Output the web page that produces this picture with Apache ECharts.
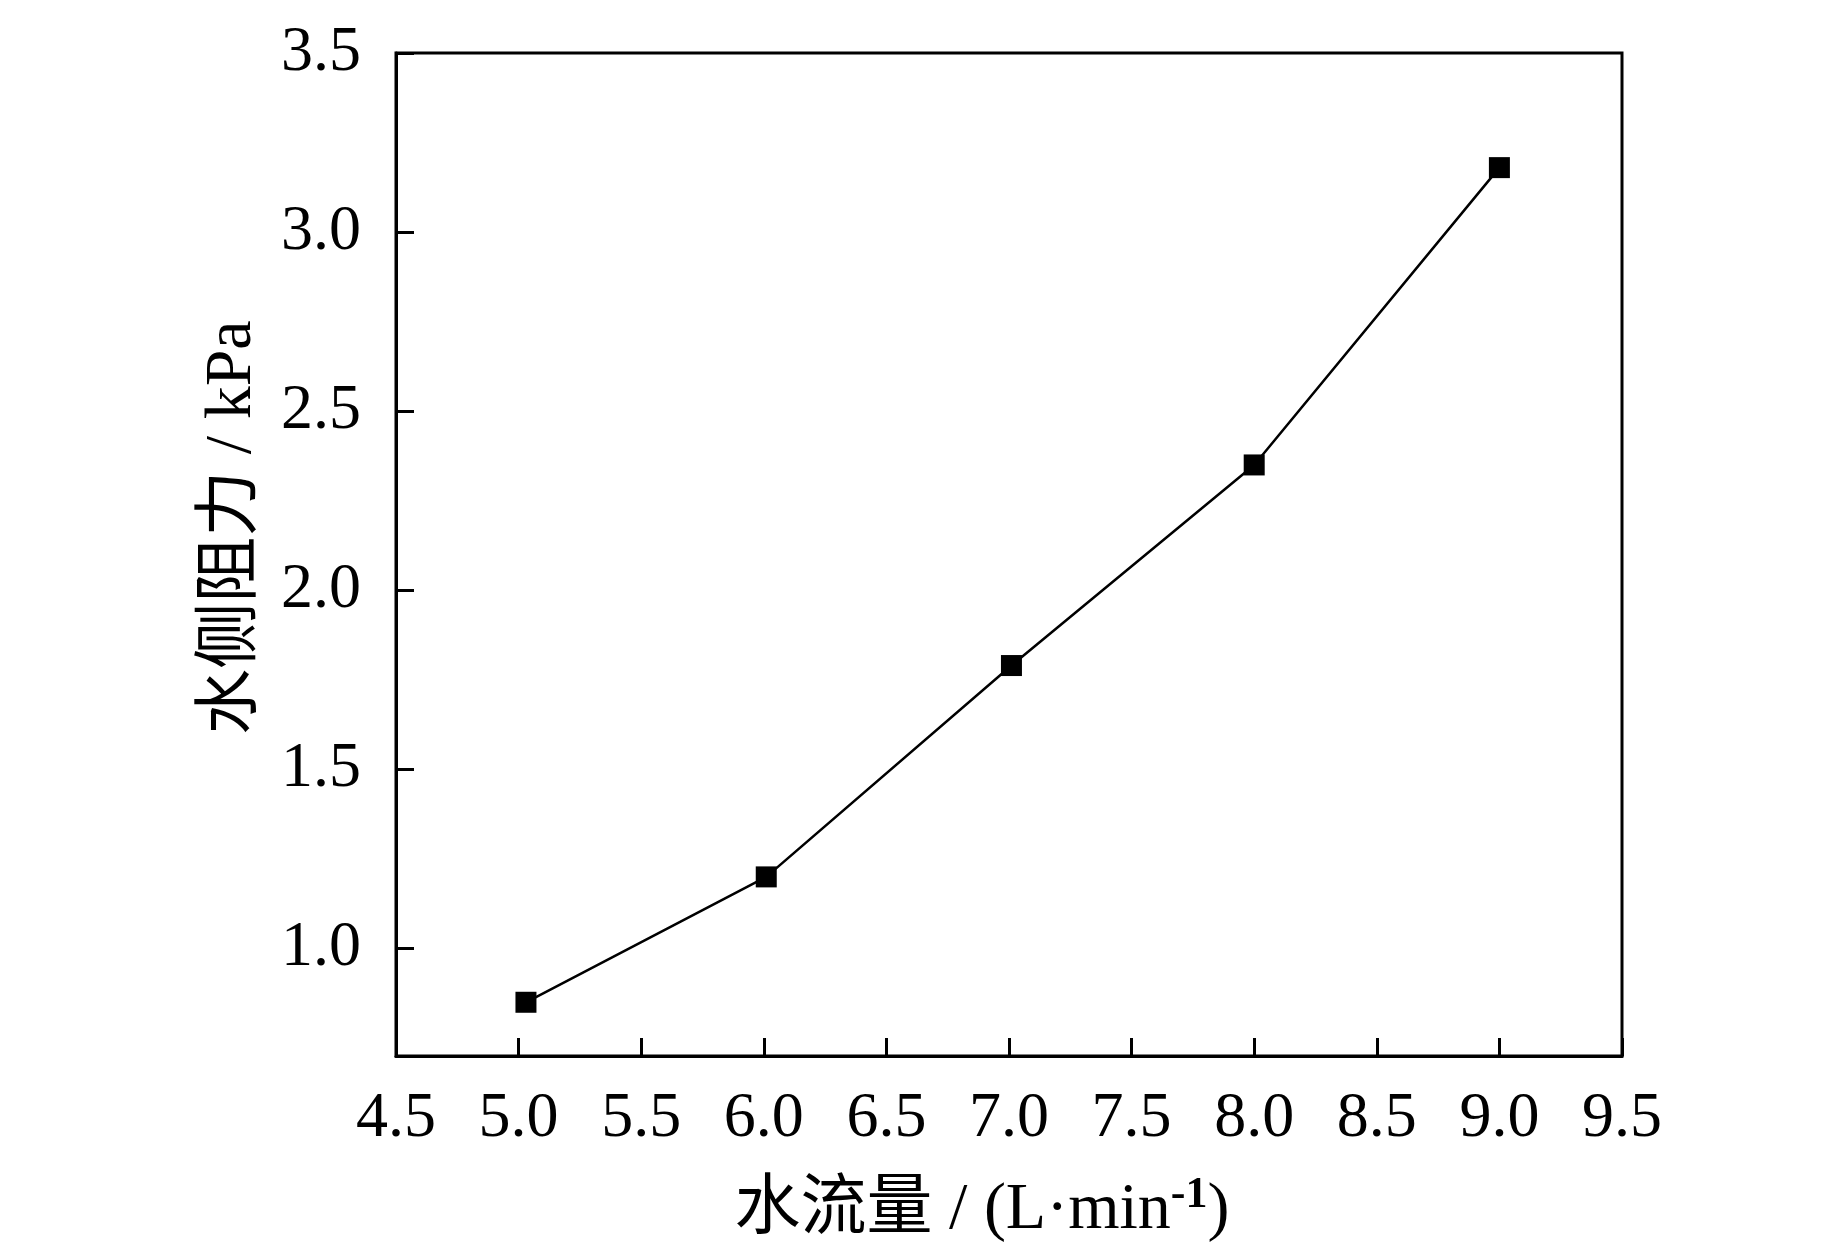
<!DOCTYPE html>
<html>
<head>
<meta charset="utf-8">
<style>
html,body{margin:0;padding:0;background:#fff;}
#chart{width:1843px;height:1252px;}
</style>
<script src="https://cdn.jsdelivr.net/npm/echarts@6/dist/echarts.min.js"></script>
</head>
<body>
<div id="chart"></div>
<script>
const flowRate = [5.03, 6.01, 7.01, 8.0, 9.0];
const resistance = [0.85, 1.20, 1.79, 2.35, 3.18];
const xTicks = [4.5, 5.0, 5.5, 6.0, 6.5, 7.0, 7.5, 8.0, 8.5, 9.0, 9.5];
const yTicks = [1.0, 1.5, 2.0, 2.5, 3.0, 3.5];
const xName = '水流量 / (L·min{sup|-1})';
const yName = '水侧阻力 / kPa';

const FONT = '"Liberation Serif", "Times New Roman", "Noto Sans CJK SC", serif';
const chart = echarts.init(document.getElementById('chart'));
chart.setOption({
  animation: false,
  backgroundColor: '#fff',
  grid: {
    left: 396, top: 53, right: 221, bottom: 196,
    show: true, borderColor: '#000', borderWidth: 3, backgroundColor: 'transparent'
  },
  xAxis: {
    type: 'value', min: 4.5, max: 9.5, interval: 0.5,
    axisLine: { show: true, lineStyle: { color: '#000', width: 3 } },
    axisTick: { show: true, inside: true, length: 18, lineStyle: { color: '#000', width: 3 } },
    splitLine: { show: false },
    axisLabel: {
      color: '#000', fontFamily: FONT, fontSize: 64, margin: 31,
      formatter: v => v.toFixed(1),
      customValues: xTicks
    },
    name: xName, nameLocation: 'middle', nameGap: 118,
    nameTextStyle: {
      color: '#000', fontFamily: FONT, fontSize: 66, padding: [0, 54, 0, 0],
      rich: { sup: { fontFamily: FONT, fontSize: 44, fontWeight: 'bold', color: '#000', verticalAlign: 'top', padding: [0, 0, 30, 0] } }
    }
  },
  yAxis: {
    type: 'value', min: 0.7, max: 3.5,
    axisLine: { show: true, lineStyle: { color: '#000', width: 3 } },
    axisTick: { show: true, inside: true, length: 18, lineStyle: { color: '#000', width: 3 }, customValues: yTicks },
    splitLine: { show: false },
    axisLabel: {
      color: '#000', fontFamily: FONT, fontSize: 64, margin: 35,
      formatter: v => v.toFixed(1),
      customValues: yTicks
    },
    name: yName, nameLocation: 'middle', nameGap: 130,
    nameTextStyle: { color: '#000', fontFamily: FONT, fontSize: 66, padding: [0, 0, 0, 54] }
  },
  series: [{
    type: 'line',
    data: flowRate.map((x, i) => [x, resistance[i]]),
    symbol: 'rect', symbolSize: 21,
    itemStyle: { color: '#000' },
    lineStyle: { color: '#000', width: 2.5 }
  }]
});
</script>
</body>
</html>
